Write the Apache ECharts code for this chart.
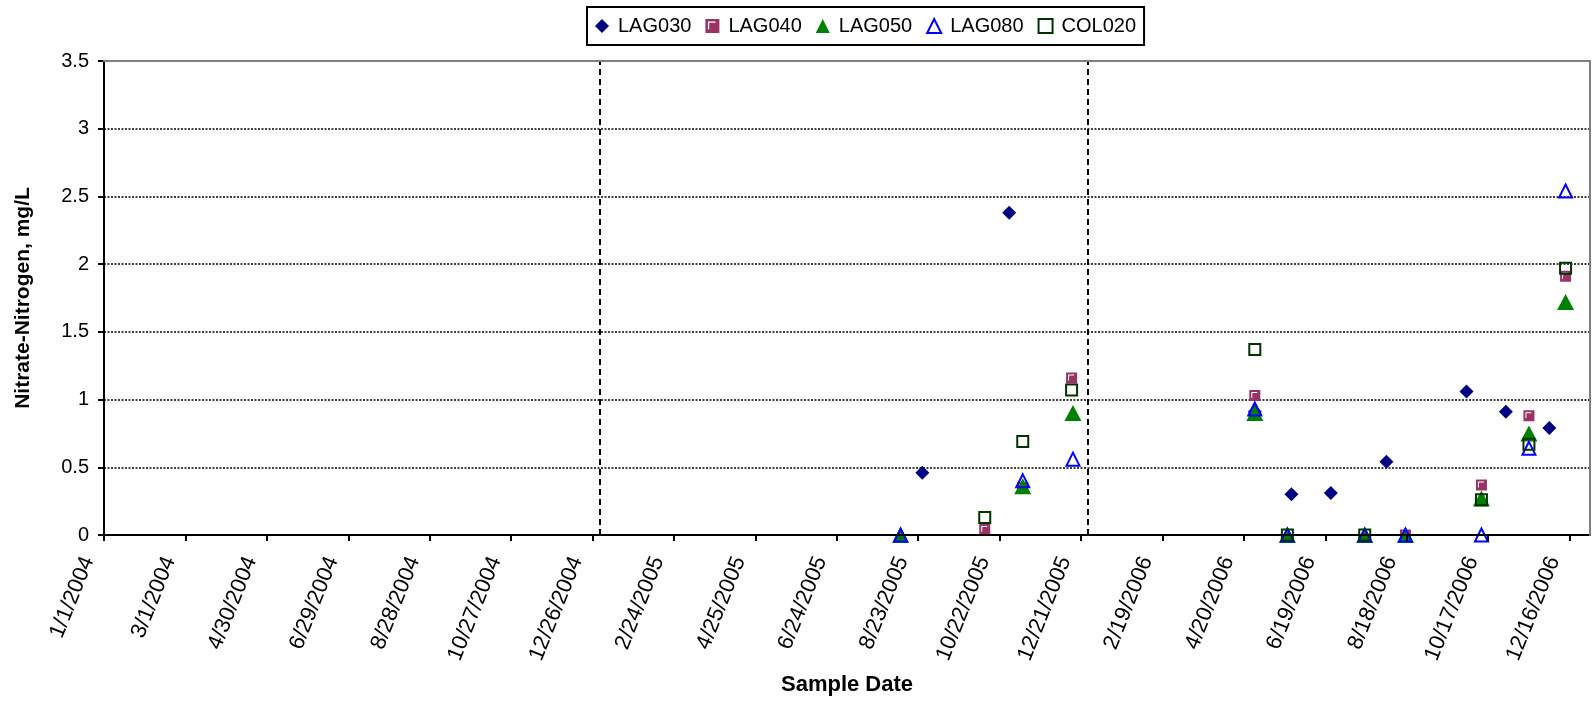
<!DOCTYPE html>
<html>
<head>
<meta charset="utf-8">
<script src="https://cdn.jsdelivr.net/npm/echarts@6/dist/echarts.min.js"></script>
<style>
html, body { margin: 0; padding: 0; background: #fff; }
#chart { width: 1595px; height: 702px; }
</style>
</head>
<body>
<div id="chart"></div>
<script>
// sample dates and nitrate values
var lag030Dates  = ['8/26/2005', '10/29/2005', '4/28/2006', '5/25/2006', '6/23/2006', '8/3/2006', '10/1/2006', '10/30/2006', '12/1/2006'];
var lag030Values = [0.46, 2.38, 0.91, 0.30, 0.31, 0.54, 1.06, 0.91, 0.79];

var lag040Dates  = ['10/11/2005', '11/8/2005', '12/14/2005', '4/28/2006', '8/17/2006', '10/12/2006', '11/16/2006', '12/13/2006'];
var lag040Values = [0.04, 0.35, 1.16, 1.03, 0, 0.37, 0.88, 1.91];

var lag050Dates  = ['8/10/2005', '11/8/2005', '12/15/2005', '4/28/2006', '5/22/2006', '7/18/2006', '8/17/2006', '10/12/2006', '11/16/2006', '12/13/2006'];
var lag050Values = [0, 0.36, 0.90, 0.90, 0, 0, 0, 0.27, 0.75, 1.72];

var lag080Dates  = ['8/10/2005', '11/8/2005', '12/15/2005', '4/28/2006', '5/22/2006', '7/18/2006', '8/17/2006', '10/12/2006', '11/16/2006', '12/13/2006'];
var lag080Values = [0, 0.40, 0.56, 0.93, 0, 0, 0, 0, 0.64, 2.54];

var col020Dates  = ['10/11/2005', '11/8/2005', '12/14/2005', '4/28/2006', '5/22/2006', '7/18/2006', '10/12/2006', '11/16/2006', '12/13/2006'];
var col020Values = [0.13, 0.69, 1.07, 1.37, 0, 0, 0.26, 0.67, 1.97];

var seriesNames = ['LAG030', 'LAG040', 'LAG050', 'LAG080', 'COL020'];
var axisStart = '1/1/2004';
var axisEnd = '12/31/2006';
var tickDays = 60;
var yearBreaks = ['12/31/2004', '12/26/2005'];

var DAY = 86400000;
function toUTC(s) {
    var p = s.split('/');
    return Date.UTC(+p[2], +p[0] - 1, +p[1]);
}
var t0 = toUTC(axisStart);
function dayOf(s) {
    return Math.round((toUTC(s) - t0) / DAY);
}
function dayLabel(v) {
    if (v % tickDays !== 0) return '';
    var d = new Date(t0 + v * DAY);
    return (d.getUTCMonth() + 1) + '/' + d.getUTCDate() + '/' + d.getUTCFullYear();
}
function points(dates, values) {
    return dates.map(function (d, i) { return [dayOf(d), values[i]]; });
}

var chart = echarts.init(document.getElementById('chart'));
var font = '"Liberation Sans", Arial, sans-serif';

var option = {
    animation: false,
    textStyle: { fontFamily: font },
    legend: {
        left: 587,
        top: 7,
        padding: [9, 8],
        borderColor: '#000',
        borderWidth: 2,
        itemGap: 14,
        itemWidth: 14,
        itemHeight: 14,
        textStyle: { fontSize: 20, color: '#000', fontFamily: font, padding: [0, 0, 0, 4] },
        data: seriesNames
    },
    grid: { left: 104, right: 5, top: 61, bottom: 167, outerBoundsMode: 'none', containLabel: false },
    xAxis: [{
        type: 'value',
        min: 0,
        max: dayOf(axisEnd),
        interval: tickDays,
        name: 'Sample Date',
        nameLocation: 'middle',
        nameGap: 137,
        nameTextStyle: { fontSize: 22, fontWeight: 'bold', color: '#000', fontFamily: font },
        axisLine: { onZero: false, lineStyle: { color: '#000', width: 2 } },
        axisTick: { length: 6, lineStyle: { color: '#000', width: 2 } },
        axisLabel: {
            rotate: 68,
            margin: 29,
            fontSize: 22,
            verticalAlign: 'bottom',
            lineHeight: 34,
            color: '#000',
            fontFamily: font,
            showMaxLabel: false,
            formatter: dayLabel
        },
        splitLine: { show: false },
        z: 4
    }, {
        type: 'value',
        position: 'top',
        min: 0,
        max: 1,
        axisLine: { onZero: false, lineStyle: { color: '#808080', width: 2 } },
        axisTick: { show: false },
        axisLabel: { show: false },
        splitLine: { show: false },
        z: 5
    }],
    yAxis: [{
        type: 'value',
        min: 0,
        max: 3.5,
        interval: 0.5,
        name: 'Nitrate-Nitrogen, mg/L',
        nameLocation: 'middle',
        nameGap: 70,
        nameTextStyle: { fontSize: 21, fontWeight: 'bold', color: '#000', fontFamily: font },
        axisLine: { show: true, onZero: false, lineStyle: { color: '#000', width: 2 } },
        axisTick: { show: true, length: 6, lineStyle: { color: '#000', width: 2 } },
        axisLabel: { fontSize: 20, color: '#000', margin: 15, fontFamily: font },
        splitLine: { lineStyle: { color: '#000', width: 1.5, type: [2, 1.5] } },
        z: 1
    }, {
        type: 'value',
        position: 'right',
        min: 0,
        max: 1,
        axisLine: { show: true, onZero: false, lineStyle: { color: '#808080', width: 2 } },
        axisTick: { show: false },
        axisLabel: { show: false },
        splitLine: { show: false },
        z: 5
    }],
    series: [{
        name: 'LAG030',
        type: 'scatter',
        clip: false,
        symbol: 'diamond',
        symbolSize: 14,
        itemStyle: { color: '#000080', opacity: 1 },
        data: points(lag030Dates, lag030Values),
        markLine: {
            silent: true,
            symbol: 'none',
            label: { show: false },
            lineStyle: { color: '#000', type: [6, 4], width: 2 },
            data: yearBreaks.map(function (d) { return { xAxis: dayOf(d) }; })
        }
    }, {
        name: 'LAG040',
        type: 'scatter',
        clip: false,
        symbol: 'path://M0 0H11V11H0Z M2 2V8H3V3H8V2Z',
        symbolSize: 11,
        itemStyle: { color: '#993366', opacity: 1 },
        data: points(lag040Dates, lag040Values)
    }, {
        name: 'LAG050',
        type: 'scatter',
        clip: false,
        symbol: 'triangle',
        symbolSize: [17, 16],
        itemStyle: { color: '#008000', opacity: 1 },
        data: points(lag050Dates, lag050Values)
    }, {
        name: 'LAG080',
        type: 'scatter',
        clip: false,
        symbol: 'triangle',
        symbolSize: 13,
        itemStyle: { color: 'rgba(0,0,0,0)', borderColor: '#0000ff', borderWidth: 2, opacity: 1 },
        data: points(lag080Dates, lag080Values)
    }, {
        name: 'COL020',
        type: 'scatter',
        clip: false,
        symbol: 'rect',
        symbolSize: 11,
        itemStyle: { color: 'rgba(0,0,0,0)', borderColor: '#003300', borderWidth: 2, opacity: 1 },
        data: points(col020Dates, col020Values)
    }]
};

chart.setOption(option);
window.onresize = chart.resize;
</script>
</body>
</html>
